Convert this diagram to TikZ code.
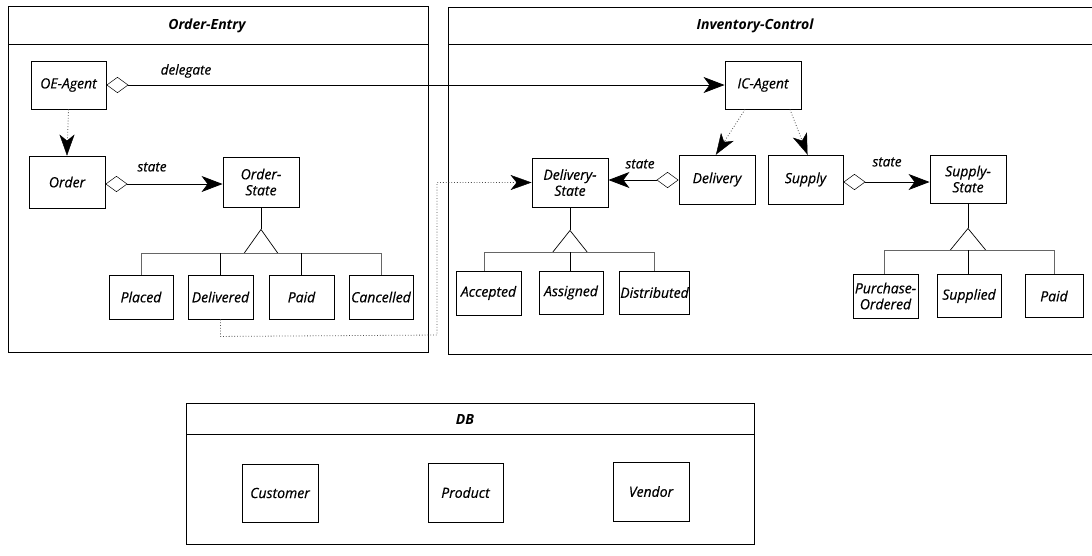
\documentclass[tikz,border=0pt]{standalone}
\usepackage{fontspec}
\setmainfont{Open Sans}
\newfontfamily\boxfont[FakeBold=0.4]{Open Sans}
\usetikzlibrary{arrows.meta,calc}
\begin{document}
\begin{tikzpicture}[x=1pt,y=-1pt,
  box/.style={draw, line width=0.9pt, inner sep=0.5pt, align=center,
    font=\boxfont\itshape\fontsize{14}{16}\selectfont},
  pkgtitle/.style={font=\bfseries\itshape\fontsize{14}{15}\selectfont},
  pkgline/.style={line width=0.9pt},
  lbl/.style={font=\boxfont\itshape\fontsize{13.5}{14}\selectfont},
  head/.style={-{Stealth[length=21pt,width=15pt,inset=6pt]}},
  aggr/.style={line width=0.8pt,{Diamond[open,length=22pt,width=16pt,line width=0.5pt]}-{Stealth[length=21pt,width=16pt,inset=6pt]}},
  dep/.style={dotted, line width=0.8pt, black!70},
  gen/.style={line width=0.7pt},
  genfaint/.style={line width=0.6pt, black!60}
]
\useasboundingbox (0,0) rectangle (1092,555);
\fill[white] (0,0) rectangle (1092,555);

% ---------- packages ----------
\node[draw, pkgline, minimum width=420, minimum height=346, inner sep=0pt] (oepkg) at (218,179) {};
\draw[pkgline] (8,44) -- (428,44);
\node[pkgtitle] (oetitle) at (207,26) {Order-Entry};

\draw[pkgline] (1092,7) -- (448,7) -- (448,354) -- (1092,354);
\draw[pkgline] (448,44) -- (1092,44);
\node[pkgtitle] (ictitle) at (755,26) {Inventory-Control};

\node[draw, pkgline, minimum width=568, minimum height=141, inner sep=0pt] (dbpkg) at (470,473.5) {};
\draw[pkgline] (186,434) -- (754,434);
\node[pkgtitle] (dbtitle) at (465,419) {DB};

% ---------- Order-Entry ----------
\node[box, minimum width=75, minimum height=48] (oea) at (68.5,85) {OE-Agent};
\node[box, minimum width=76, minimum height=52] (ord) at (67,182) {Order};
\node[box, minimum width=76, minimum height=50] (ors) at (261,182) {Order-\\State};
\node[box, minimum width=64, minimum height=44] (pl) at (141,297) {Placed};
\node[box, minimum width=65, minimum height=44] (dl) at (220.5,297) {Delivered};
\node[box, minimum width=65, minimum height=44] (pd) at (301.5,297) {Paid};
\node[box, minimum width=64, minimum height=44] (ca) at (381,297) {Cancelled};

% ---------- Inventory-Control ----------
\node[box, minimum width=76, minimum height=48] (ica) at (763,85) {IC-Agent};
\node[box, minimum width=76, minimum height=49] (dls) at (570,182.5) {Delivery-\\State};
\node[box, minimum width=76, minimum height=49] (dlv) at (717,179.5) {Delivery};
\node[box, minimum width=75, minimum height=49] (sup) at (805.5,179.5) {Supply};
\node[box, minimum width=76, minimum height=48] (sus) at (968,179) {Supply-\\State};
\node[box, minimum width=65, minimum height=44] (acc) at (488.5,293) {Accepted};
\node[box, minimum width=64, minimum height=43] (asg) at (571,292.5) {Assigned};
\node[box, minimum width=65, minimum height=43] (dst) at (654.5,292.5) {Distributed};
\node[box, minimum width=65, minimum height=44] (po) at (885.5,296) {Purchase-\\Ordered};
\node[box, minimum width=64, minimum height=43] (spd) at (969,296) {Supplied};
\node[box, minimum width=58, minimum height=43] (pd2) at (1054,296) {Paid};

% ---------- DB ----------
\node[box, minimum width=76, minimum height=58] (cus) at (280,493) {Customer};
\node[box, minimum width=75, minimum height=59] (prd) at (465.5,492.5) {Product};
\node[box, minimum width=76, minimum height=59] (ven) at (651,491.5) {Vendor};

% ---------- connectors ----------
\draw[aggr] (oea.east) -- (ica.west);
\node[lbl] (dlg) at (186,71) {delegate};

\draw[dep] (oea.south) -- (ord.north);
\draw[head] ($(ord.north)+(0,-12)$) -- (ord.north);

\coordinate (a1) at ([yshift=-2pt]ord.east);
\draw[aggr] (a1) -- (ors.west |- a1);
\node[lbl] (st1) at (152,167) {state};

\coordinate (a2) at ([yshift=-0.5pt]dlv.west);
\draw[aggr] (a2) -- (dls.east |- a2);
\node[lbl] (st2) at (640,164) {state};

\coordinate (a3) at ([yshift=-2.5pt]sup.east);
\draw[aggr] (a3) -- (sus.west |- a3);
\node[lbl] (st3) at (887,162) {state};

\coordinate (ica1) at ([xshift=-18pt]ica.south);
\coordinate (ica2) at ([xshift=27pt]ica.south);
\coordinate (dlvt) at ([xshift=-1pt]dlv.north);
\coordinate (supt) at ([xshift=2pt]sup.north);
\draw[dep] (ica1) -- (dlvt);
\draw[head] ($(ica1)!0.7!(dlvt)$) -- (dlvt);
\draw[dep] (ica2) -- (supt);
\draw[head] ($(ica2)!0.7!(supt)$) -- (supt);

% dependency Delivered -> Delivery-State
\coordinate (c1) at ($(dl.south)+(0,17)$);
\coordinate (c2) at (437,335);
\coordinate (c3) at (437,182.5);
\draw[dep] (dl.south) -- (c1) -- (c2) -- (c3) -- (dls.west);
\draw[head] ($(dls.west)+(-12,0)$) -- (dls.west);

% ---------- generalizations ----------
% Order-State
\draw[gen] (ors.south) -- ++(0,22) coordinate (osA);
\draw[gen] (osA) -- ++(-17,24) coordinate (osL) -- ++(34,0) coordinate (osR) -- cycle;
\coordinate (osB) at ($(osL)!0.5!(osR)$);
\draw[genfaint] (pl.north) -- (pl.north |- osB) -- (ca.north |- osB) -- (ca.north);
\draw[gen] (dl.north) -- (dl.north |- osB);
\draw[gen] (pd.north) -- (pd.north |- osB);

% Delivery-State
\draw[gen] (dls.south) -- ++(0,23) coordinate (dsA);
\draw[gen] (dsA) -- ++(-17.5,22) coordinate (dsL) -- ++(35,0) coordinate (dsR) -- cycle;
\coordinate (dsB) at ($(dsL)!0.5!(dsR)$);
\coordinate (acct) at ([xshift=-4pt]acc.north);
\draw[genfaint] (acct) -- (acct |- dsB) -- (dst.north |- dsB) -- (dst.north);
\draw[gen] (dsB) -- (dsB |- asg.north);

% Supply-State
\draw[gen] (sus.south) -- ++(0,25) coordinate (ssA);
\draw[gen] (ssA) -- ++(-18,22) coordinate (ssL) -- ++(36,0) coordinate (ssR) -- cycle;
\coordinate (ssB) at ($(ssL)!0.5!(ssR)$);
\coordinate (pot) at ([xshift=-1.5pt]po.north);
\draw[genfaint] (pot) -- (pot |- ssB) -- (pd2.north |- ssB) -- (pd2.north);
\draw[gen] (ssB) -- (ssB |- spd.north);
\end{tikzpicture}
\end{document}
